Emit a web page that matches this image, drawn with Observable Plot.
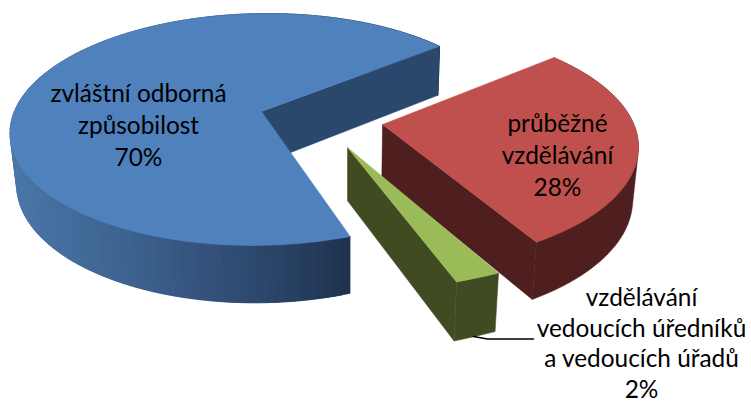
<!DOCTYPE html>
<html>
<head>
<meta charset="utf-8">
<script src="https://cdn.jsdelivr.net/npm/d3@7"></script>
<script src="https://cdn.jsdelivr.net/npm/@observablehq/plot@0.6"></script>
<style>html,body{margin:0;padding:0;background:#fff}svg{display:block}</style>
</head>
<body>
<div id="chart"></div>
<script>
// Data
const categories = ["zvláštní odborná způsobilost", "průběžné vzdělávání", "vzdělávání vedoucích úředníků a vedoucích úřadů"];
const shares = [70, 28, 2];
const labelLines = [
  ["zvláštní odborná", "způsobilost", "70%"],
  ["průběžné", "vzdělávání", "28%"],
  ["vzdělávání", "vedoucích úředníků", "a vedoucích úřadů", "2%"]
];

// 3-D view of each exploded slice (perspective ellipse of the pie top)
const views = [
  {apex: [261, 111], c: [259.6, 129], h: 250, k: 7.4, ry: 116, start: 67.2, warp: 0.98, top: "#4f81bd", inner: "#2a486c"},
  {apex: [382, 124], c: [381, 145], h: 257, k: -3.5, ry: 120, start: -47.1, warp: 1, top: "#c0504d", inner: "#4f1f1f"},
  {apex: [347, 147], c: [347, 165], h: 352, k: 69, ry: 133, start: 54, warp: 1, top: "#9bbb59", inner: "#414b22"}
];
const labelAnchors = [[138, [94, 126, 158]], [557, [124, 156, 188]], [641, [298, 328.5, 359, 389.5]]];
const blueWall = d3.scaleLinear().domain([10, 130, 250, 349]).range(["#4a76a8", "#3d6290", "#2e4a70", "#1f3350"]);

const rad = d => d * Math.PI / 180;
// vertical extrusion converging to a far vanishing point below the pie
function drop([x, y]) {
  const d = 49 + (y - 46) * 0.042;
  return [x + (347 - x) * d / (2800 - y), y + d];
}
const arc = (v, i) => {
  const sweep = shares[i] * 3.6 * v.warp, n = Math.max(4, Math.ceil(sweep / 2)), pts = [];
  for (let j = 0; j <= n; j++) {
    const t = rad(v.start + sweep * j / n);
    pts.push([v.c[0] + v.h * Math.cos(t) - v.k * Math.sin(t), v.c[1] + v.ry * Math.sin(t)]);
  }
  return pts;
};

const polys = [];
let id = 0;
const add = (pts, fill) => {
  const z = id++;
  [...pts, pts[0]].forEach(([x, y]) => polys.push({x, y, z, fill}));
};
// painter's order: blue, red, green
[0, 1, 2].forEach(i => {
  const v = views[i], a = arc(v, i);
  // outer wall
  if (i === 0) {
    // shaded: each strip overlaps the next so no seams show
    for (let j = 0; j < a.length - 1; j++) {
      const next = a[Math.min(j + 2, a.length - 1)];
      add([a[j], next, drop(next), drop(a[j])], blueWall(a[j][0]));
    }
  } else {
    add(d3.polygonHull([...a, ...a.map(drop)]), v.inner);
  }
  // cut face
  const last = a[a.length - 1];
  add([v.apex, last, drop(last), drop(v.apex)], v.inner);
  // top
  add([v.apex, ...a], v.top);
});

const labels = labelLines.flatMap((lines, i) =>
  lines.map((text, j) => ({text, x: labelAnchors[i][0], y: labelAnchors[i][1][j]})));
const leader = [[473, 336], [487, 338.5], [533, 338.5]].map(([x, y]) => ({x, y}));

const chart = Plot.plot({
  width: 751,
  height: 403,
  margin: 0,
  x: {domain: [0, 751], range: [0, 751], axis: null},
  y: {domain: [0, 403], range: [0, 403], axis: null},
  color: {type: "identity"},
  style: {background: "#fff"},
  marks: [
    Plot.line(polys, {x: "x", y: "y", z: "z", fill: "fill", stroke: "fill", strokeWidth: 0.5, curve: "linear"}),
    Plot.line(leader, {x: "x", y: "y", stroke: "#000", strokeWidth: 1.6}),
    Plot.text(labels, {x: "x", y: "y", text: "text", fontFamily: "Lato", fontSize: 24.4, fill: "#000", textAnchor: "middle", lineAnchor: "middle"})
  ]
});
document.getElementById("chart").append(chart);
</script>
</body>
</html>
